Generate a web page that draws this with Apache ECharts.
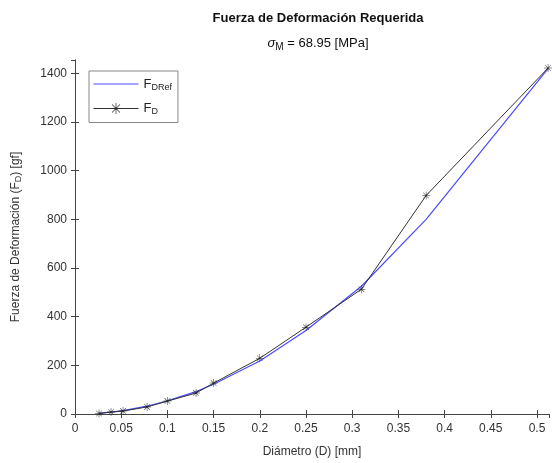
<!DOCTYPE html>
<html><head><meta charset="utf-8">
<script src="https://cdn.jsdelivr.net/npm/echarts@6/dist/echarts.min.js"></script>
<style>html,body{margin:0;padding:0;background:#fff}#c{width:552px;height:463px}</style>
</head><body><div id="c"></div>
<script>
const diam = [0.026, 0.039, 0.052, 0.078, 0.100, 0.131, 0.150, 0.200, 0.250, 0.310, 0.380, 0.512];
const fdRef = [3.7, 8, 14, 32, 54, 92, 122, 218, 343, 525, 800, 1420];
const fd = [2, 8, 12, 29, 53, 86, 127, 229, 357, 513, 898, 1422];
const seriesNames = ['FDRef', 'FD'];

const F = 'Liberation Sans, Arial, sans-serif';
const axisCol = '#444';
const star = 'path://M-0.6,-10L0.6,-10L0.6,10L-0.6,10Z M-10,-0.6L10,-0.6L10,0.6L-10,0.6Z M-7.5,-6.7L-6.7,-7.5L7.5,6.7L6.7,7.5Z M6.7,-7.5L7.5,-6.7L-6.7,7.5L-7.5,6.7Z';
const lineIcon = 'path://M0,6.4L45,6.4L45,7.6L0,7.6Z M0,0L0.01,0L0,0.01Z M45,14L44.99,14L45,13.99Z';

const chart = echarts.init(document.getElementById('c'));
const xBase = {type:'value', min:0, max:0.513, interval:0.05,
  axisLine:{lineStyle:{color:axisCol}}, axisTick:{inside:true, length:4, lineStyle:{color:axisCol}},
  splitLine:{show:false}};
const yBase = {type:'value', min:0, max:1455, interval:200,
  axisLine:{lineStyle:{color:axisCol}}, axisTick:{inside:true, length:4, lineStyle:{color:axisCol}},
  splitLine:{show:false}};
chart.setOption({
  animation:false,
  title:[
    {text:'Fuerza de Deformación Requerida', left:313, top:7, textAlign:'center',
     textStyle:{fontFamily:F, fontSize:13, fontWeight:'bold', color:'#111'}},
    {text:'{g|σ}{s|M}{n| = 68.95 [MPa]}', left:313, top:29, textAlign:'center',
     textStyle:{fontFamily:F, fontSize:13, fontWeight:'normal', color:'#111',
       rich:{g:{fontFamily:F, fontSize:13, fontWeight:'normal', fontStyle:'italic', color:'#111'},
             s:{fontFamily:F, fontSize:10, fontWeight:'normal', color:'#111', padding:[8,0,0,0]},
             n:{fontFamily:F, fontSize:13, fontWeight:'normal', color:'#111'}}}}
  ],
  grid:{left:75, right:3, top:60, bottom:49, containLabel:false},
  legend:{orient:'vertical', left:89, top:71, padding:[6,6,6,4], itemWidth:45, itemHeight:14, itemGap:10,
    borderColor:'#888', borderWidth:1, backgroundColor:'#fff',
    data:[{name:seriesNames[0], icon:lineIcon}, {name:seriesNames[1], lineStyle:{width:1}}],
    formatter: n => '{m|F}{s|' + n.slice(1) + '}',
    textStyle:{fontFamily:F, fontSize:12, color:'#222',
      rich:{m:{fontFamily:F, fontSize:13, color:'#222'}, s:{fontFamily:F, fontSize:9, color:'#222', padding:[7,0,0,0]}}}},
  xAxis:[
    Object.assign({}, xBase, {position:'bottom',
      name:'Diámetro (D) [mm]', nameLocation:'middle', nameGap:32,
      nameTextStyle:{fontFamily:F, fontSize:12, color:'#333'},
      axisLabel:{fontFamily:F, fontSize:12, color:'#333', margin:9, showMaxLabel:false,
        formatter: v => String(+v.toFixed(2))}}),
    Object.assign({}, xBase, {position:'top', axisLabel:{show:false}})
  ],
  yAxis:[
    Object.assign({}, yBase, {position:'left',
      name:'{a|Fuerza de Deformación (F}{s|D}{a|) [gf]}', nameLocation:'middle', nameGap:52,
      nameTextStyle:{fontFamily:F, fontSize:12, color:'#333',
        rich:{a:{fontFamily:F, fontSize:12, color:'#333'}, s:{fontFamily:F, fontSize:9, color:'#333', padding:[6,0,0,0]}}},
      axisLabel:{fontFamily:F, fontSize:12, color:'#333', margin:8, showMaxLabel:false,
        formatter: v => String(v)}}),
    Object.assign({}, yBase, {position:'right', axisLabel:{show:false}})
  ],
  series:[
    {name:seriesNames[0], type:'line', data:diam.map((d,i)=>[d, fdRef[i]]), symbol:'none',
     lineStyle:{color:'#4a4aff', width:1.2}, itemStyle:{color:'#4a4aff'}, z:2},
    {name:seriesNames[1], type:'line', data:diam.map((d,i)=>[d, fd[i]]), symbol:star, symbolSize:8,
     lineStyle:{color:'#333', width:1}, itemStyle:{color:'#222'}, z:3}
  ]
});
</script></body></html>
